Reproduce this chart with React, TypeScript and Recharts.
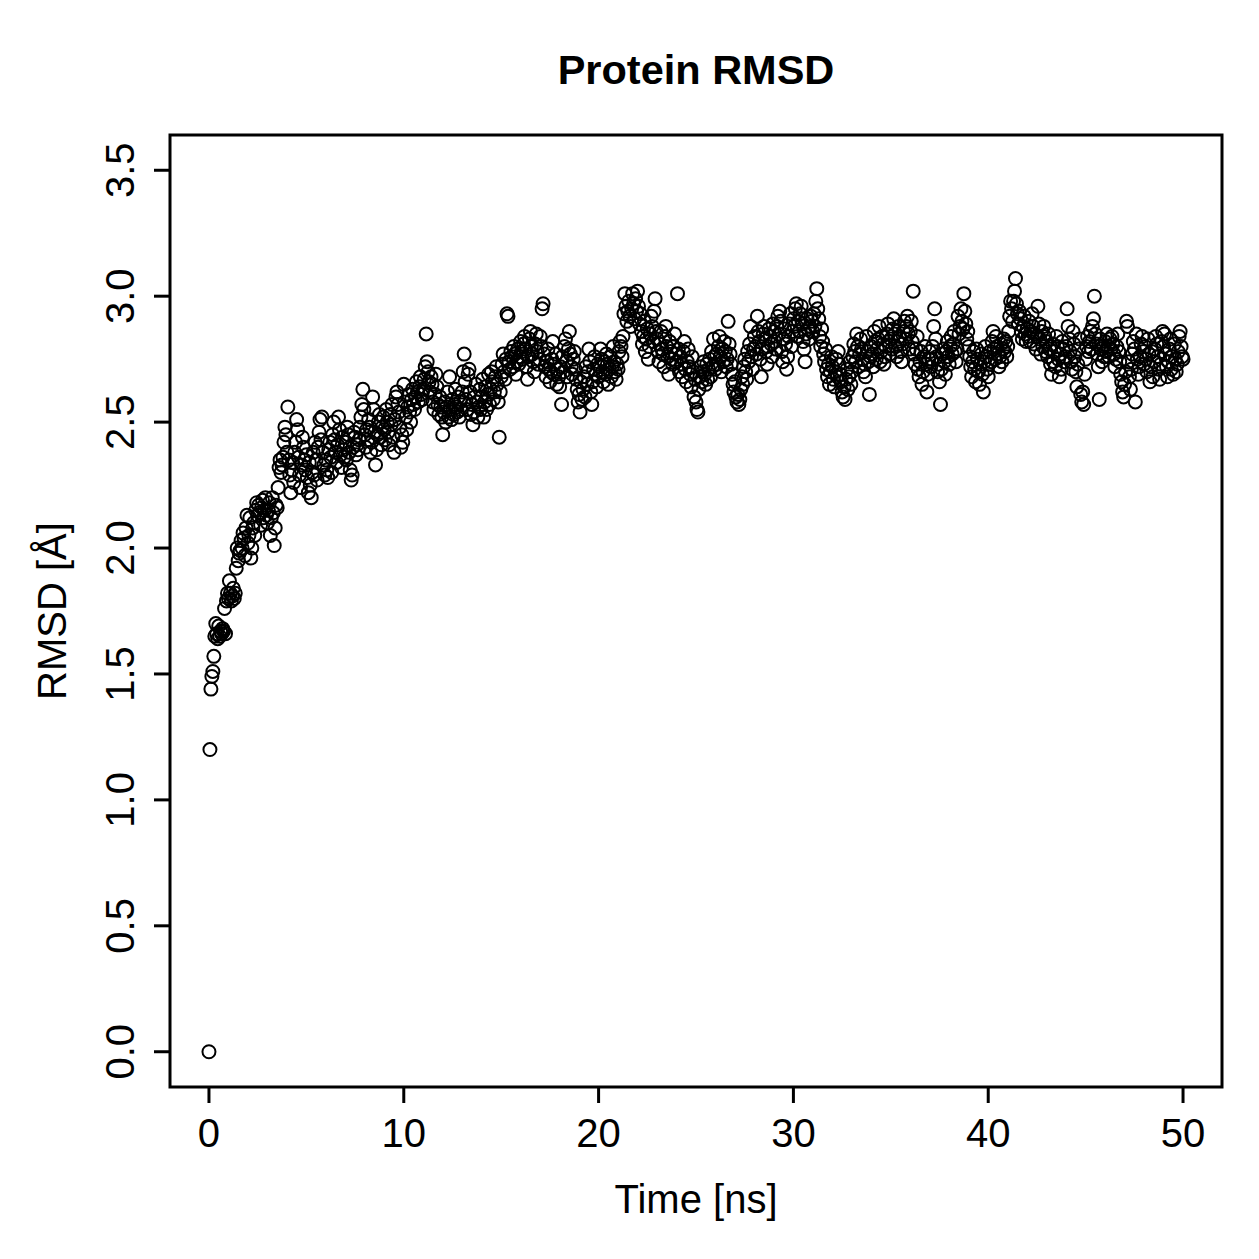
import { ScatterChart, Scatter, XAxis, YAxis, ReferenceArea } from "recharts";

// RMSD samples every 0.05 ns, one row per nanosecond (20 frames)
const FRAME_NS = 0.05;

const rmsd0to10 = [
  0.00, 1.20, 1.44, 1.49, 1.51, 1.57, 1.65, 1.70, 1.66, 1.64, 1.69, 1.65, 1.67, 1.66, 1.68, 1.67, 1.76, 1.66, 1.79, 1.82,
  1.80, 1.87, 1.82, 1.79, 1.81, 1.84, 1.80, 1.82, 1.92, 2.00, 1.95, 1.98, 1.99, 2.03, 2.00, 2.06, 2.04, 1.97, 2.08, 2.13,
  2.02, 2.05, 2.12, 1.96, 2.00, 2.08, 2.10, 2.05, 2.15, 2.18, 2.13, 2.17, 2.14, 2.09, 2.16, 2.19, 2.12, 2.15, 2.20, 2.13,
  2.10, 2.15, 2.18, 2.05, 2.12, 2.20, 2.14, 2.01, 2.08, 2.17, 2.16, 2.24, 2.32, 2.35, 2.30, 2.33, 2.36, 2.42, 2.48, 2.45,
  2.38, 2.56, 2.35, 2.29, 2.22, 2.31, 2.34, 2.26, 2.38, 2.42, 2.51, 2.47, 2.36, 2.29, 2.24, 2.33, 2.44, 2.40, 2.35, 2.31,
  2.37, 2.28, 2.22, 2.34, 2.25, 2.20, 2.30, 2.38, 2.29, 2.42, 2.35, 2.27, 2.40, 2.46, 2.51, 2.43, 2.52, 2.38, 2.33, 2.29,
  2.35, 2.31, 2.28, 2.39, 2.42, 2.36, 2.30, 2.45, 2.50, 2.43, 2.38, 2.34, 2.41, 2.52, 2.47, 2.37, 2.32, 2.44, 2.39, 2.36,
  2.42, 2.35, 2.48, 2.45, 2.38, 2.31, 2.27, 2.29, 2.40, 2.46, 2.44, 2.37, 2.41, 2.39, 2.43, 2.48, 2.52, 2.57, 2.63, 2.55,
  2.45, 2.40, 2.47, 2.43, 2.51, 2.48, 2.38, 2.42, 2.60, 2.55, 2.46, 2.33, 2.39, 2.45, 2.50, 2.53, 2.44, 2.41, 2.48, 2.52,
  2.47, 2.43, 2.55, 2.50, 2.46, 2.41, 2.53, 2.49, 2.57, 2.44, 2.38, 2.51, 2.60, 2.62, 2.57, 2.54, 2.48, 2.40, 2.45, 2.42,
];

const rmsd10to20 = [
  2.65, 2.58, 2.52, 2.47, 2.56, 2.61, 2.54, 2.50, 2.59, 2.63, 2.57, 2.55, 2.60, 2.66, 2.62, 2.58, 2.64, 2.68, 2.61, 2.59,
  2.63, 2.67, 2.72, 2.85, 2.74, 2.70, 2.66, 2.62, 2.68, 2.65, 2.58, 2.55, 2.61, 2.69, 2.64, 2.57, 2.53, 2.60, 2.56, 2.52,
  2.45, 2.54, 2.58, 2.50, 2.56, 2.62, 2.52, 2.68, 2.55, 2.51, 2.59, 2.53, 2.57, 2.63, 2.56, 2.54, 2.60, 2.52, 2.58, 2.55,
  2.62, 2.70, 2.77, 2.66, 2.59, 2.55, 2.69, 2.71, 2.62, 2.53, 2.57, 2.49, 2.54, 2.60, 2.65, 2.58, 2.52, 2.56, 2.63, 2.55,
  2.60, 2.67, 2.52, 2.58, 2.64, 2.55, 2.61, 2.69, 2.57, 2.63, 2.70, 2.66, 2.59, 2.62, 2.68, 2.72, 2.65, 2.58, 2.44, 2.62,
  2.68, 2.73, 2.77, 2.70, 2.67, 2.75, 2.93, 2.92, 2.74, 2.71, 2.78, 2.76, 2.72, 2.80, 2.77, 2.69, 2.74, 2.79, 2.73, 2.76,
  2.82, 2.78, 2.75, 2.81, 2.84, 2.79, 2.72, 2.67, 2.76, 2.83, 2.86, 2.80, 2.77, 2.74, 2.70, 2.81, 2.85, 2.78, 2.73, 2.75,
  2.84, 2.80, 2.95, 2.97, 2.77, 2.72, 2.68, 2.74, 2.79, 2.71, 2.66, 2.70, 2.75, 2.82, 2.69, 2.73, 2.77, 2.65, 2.71, 2.68,
  2.64, 2.72, 2.57, 2.76, 2.70, 2.80, 2.83, 2.74, 2.68, 2.79, 2.86, 2.77, 2.72, 2.69, 2.75, 2.78, 2.71, 2.67, 2.63, 2.58,
  2.61, 2.54, 2.66, 2.59, 2.63, 2.68, 2.60, 2.72, 2.65, 2.70, 2.79, 2.74, 2.62, 2.57, 2.66, 2.71, 2.76, 2.69, 2.64, 2.73,
];

const rmsd20to30 = [
  2.68, 2.72, 2.79, 2.75, 2.70, 2.66, 2.74, 2.69, 2.77, 2.73, 2.65, 2.71, 2.76, 2.68, 2.72, 2.80, 2.74, 2.70, 2.67, 2.73,
  2.71, 2.78, 2.82, 2.80, 2.76, 2.84, 2.93, 3.01, 2.96, 2.90, 2.94, 2.98, 2.92, 2.88, 2.95, 3.01, 2.97, 2.91, 2.99, 2.94,
  3.02, 2.96, 2.89, 2.93, 2.86, 2.81, 2.84, 2.90, 2.78, 2.83, 2.87, 2.75, 2.80, 2.85, 2.92, 2.88, 2.82, 2.94, 2.99, 2.86,
  2.83, 2.78, 2.74, 2.81, 2.86, 2.79, 2.77, 2.72, 2.84, 2.88, 2.80, 2.76, 2.69, 2.82, 2.78, 2.75, 2.73, 2.80, 2.85, 2.77,
  2.74, 3.01, 2.79, 2.70, 2.76, 2.73, 2.68, 2.78, 2.82, 2.71, 2.66, 2.74, 2.79, 2.72, 2.69, 2.64, 2.76, 2.70, 2.60, 2.67,
  2.58, 2.55, 2.54, 2.63, 2.68, 2.72, 2.66, 2.70, 2.74, 2.69, 2.65, 2.73, 2.67, 2.71, 2.75, 2.68, 2.78, 2.72, 2.83, 2.76,
  2.71, 2.77, 2.73, 2.80, 2.84, 2.76, 2.70, 2.79, 2.74, 2.82, 2.78, 2.72, 2.75, 2.90, 2.81, 2.77, 2.73, 2.69, 2.65, 2.62,
  2.66, 2.60, 2.58, 2.61, 2.57, 2.59, 2.63, 2.68, 2.65, 2.72, 2.75, 2.70, 2.67, 2.78, 2.74, 2.81, 2.88, 2.76, 2.71, 2.79,
  2.84, 2.80, 2.77, 2.92, 2.86, 2.82, 2.75, 2.68, 2.79, 2.85, 2.88, 2.83, 2.78, 2.73, 2.80, 2.87, 2.84, 2.81, 2.76, 2.89,
  2.86, 2.82, 2.79, 2.88, 2.92, 2.85, 2.94, 2.90, 2.78, 2.74, 2.83, 2.87, 2.81, 2.71, 2.76, 2.84, 2.89, 2.93, 2.80, 2.86,
];

const rmsd30to40 = [
  2.91, 2.88, 2.95, 2.97, 2.84, 2.90, 2.86, 2.93, 2.96, 2.89, 2.82, 2.79, 2.74, 2.85, 2.91, 2.87, 2.83, 2.88, 2.92, 2.90,
  2.86, 2.93, 2.88, 2.98, 3.03, 2.95, 2.91, 2.84, 2.80, 2.87, 2.82, 2.77, 2.74, 2.79, 2.71, 2.68, 2.73, 2.65, 2.70, 2.76,
  2.72, 2.67, 2.64, 2.70, 2.75, 2.68, 2.78, 2.73, 2.69, 2.66, 2.62, 2.60, 2.64, 2.59, 2.67, 2.71, 2.63, 2.68, 2.74, 2.65,
  2.70, 2.76, 2.81, 2.78, 2.74, 2.85, 2.80, 2.72, 2.77, 2.83, 2.79, 2.75, 2.70, 2.73, 2.68, 2.84, 2.78, 2.74, 2.61, 2.76,
  2.80, 2.77, 2.72, 2.86, 2.82, 2.75, 2.79, 2.83, 2.88, 2.74, 2.78, 2.84, 2.81, 2.73, 2.76, 2.80, 2.85, 2.89, 2.82, 2.77,
  2.83, 2.79, 2.87, 2.91, 2.85, 2.80, 2.76, 2.82, 2.88, 2.84, 2.78, 2.74, 2.81, 2.86, 2.90, 2.83, 2.88, 2.92, 2.85, 2.79,
  2.86, 2.90, 2.82, 3.02, 2.77, 2.73, 2.79, 2.84, 2.71, 2.68, 2.74, 2.78, 2.65, 2.70, 2.76, 2.80, 2.73, 2.62, 2.69, 2.75,
  2.78, 2.72, 2.75, 2.80, 2.88, 2.95, 2.83, 2.76, 2.70, 2.73, 2.66, 2.57, 2.71, 2.77, 2.79, 2.74, 2.69, 2.78, 2.82, 2.76,
  2.73, 2.80, 2.84, 2.77, 2.81, 2.86, 2.78, 2.74, 2.79, 2.92, 2.85, 2.88, 2.95, 2.90, 2.87, 3.01, 2.94, 2.89, 2.83, 2.86,
  2.80, 2.76, 2.72, 2.68, 2.74, 2.78, 2.71, 2.66, 2.79, 2.75, 2.70, 2.65, 2.73, 2.77, 2.69, 2.62, 2.74, 2.80, 2.76, 2.71,
];

const rmsd40to50 = [
  2.68, 2.73, 2.78, 2.74, 2.82, 2.86, 2.79, 2.75, 2.84, 2.80, 2.77, 2.72, 2.76, 2.81, 2.74, 2.79, 2.83, 2.78, 2.82, 2.76,
  2.80, 2.86, 2.92, 2.98, 2.95, 2.90, 2.98, 3.02, 3.07, 2.97, 2.93, 2.89, 2.94, 2.91, 2.86, 2.83, 2.88, 2.92, 2.85, 2.82,
  2.87, 2.84, 2.90, 2.82, 2.86, 2.93, 2.88, 2.81, 2.85, 2.79, 2.84, 2.96, 2.89, 2.83, 2.77, 2.86, 2.80, 2.88, 2.84, 2.78,
  2.82, 2.76, 2.85, 2.79, 2.73, 2.69, 2.81, 2.74, 2.78, 2.72, 2.84, 2.80, 2.75, 2.68, 2.77, 2.71, 2.82, 2.79, 2.74, 2.76,
  2.80, 2.95, 2.88, 2.83, 2.78, 2.74, 2.71, 2.86, 2.81, 2.76, 2.70, 2.64, 2.73, 2.79, 2.83, 2.61, 2.58, 2.62, 2.57, 2.69,
  2.75, 2.80, 2.84, 2.78, 2.82, 2.86, 2.79, 2.88, 2.91, 3.00, 2.85, 2.81, 2.77, 2.72, 2.59, 2.83, 2.79, 2.74, 2.80, 2.76,
  2.82, 2.78, 2.85, 2.80, 2.76, 2.83, 2.79, 2.84, 2.81, 2.77, 2.72, 2.75, 2.80, 2.85, 2.78, 2.74, 2.69, 2.66, 2.62, 2.60,
  2.65, 2.70, 2.90, 2.88, 2.74, 2.68, 2.63, 2.71, 2.77, 2.82, 2.79, 2.58, 2.85, 2.75, 2.69, 2.72, 2.76, 2.81, 2.84, 2.78,
  2.73, 2.80, 2.75, 2.70, 2.83, 2.77, 2.66, 2.72, 2.78, 2.68, 2.74, 2.79, 2.84, 2.81, 2.76, 2.71, 2.67, 2.73, 2.82, 2.86,
  2.80, 2.85, 2.77, 2.72, 2.68, 2.74, 2.79, 2.83, 2.71, 2.76, 2.69, 2.81, 2.75, 2.70, 2.73, 2.78, 2.84, 2.86, 2.80, 2.76,
  2.75,
];

const xTicks = [0, 10, 20, 30, 40, 50];
const yTicks = [0, 0.5, 1, 1.5, 2, 2.5, 3, 3.5];

const points = [...rmsd0to10, ...rmsd10to20, ...rmsd20to30, ...rmsd30to40, ...rmsd40to50].map((v, i) => ({
  time: Math.round(i * FRAME_NS * 100) / 100,
  rmsd: v,
}));

const FONT = "'Liberation Sans', Arial, Helvetica, sans-serif";

const Ring = (props: any) => (
  <circle cx={props.cx} cy={props.cy} r={6.5} fill="none" stroke="#000" strokeWidth={2} />
);

const XTick = ({ x, y, payload }: any) => (
  <text x={x} y={y} dy={29} textAnchor="middle" fontSize={40} fontFamily={FONT} fill="#000">
    {payload.value}
  </text>
);

const YTick = ({ x, y, payload }: any) => (
  <text
    x={x}
    y={y}
    transform={`rotate(-90, ${x}, ${y})`}
    textAnchor="middle"
    fontSize={40}
    fontFamily={FONT}
    fill="#000"
  >
    {Number(payload.value).toFixed(1)}
  </text>
);

export default function App() {
  return (
    <div style={{ position: "absolute", left: 0, top: 0, width: 1259, height: 1259, background: "#fff" }}>
      <div
        style={{
          position: "absolute",
          left: 170,
          top: 49,
          width: 1052,
          textAlign: "center",
          fontFamily: FONT,
          fontWeight: "bold",
          fontSize: 41.5,
          lineHeight: "42px",
        }}
      >
        Protein RMSD
      </div>
      <ScatterChart width={1259} height={1259} margin={{ top: 135, right: 37, bottom: 92, left: 70 }}>
        <XAxis
          type="number"
          dataKey="time"
          domain={[-2, 52]}
          ticks={xTicks}
          allowDataOverflow
          height={80}
          axisLine={false}
          tickSize={16}
          tickMargin={15}
          tickLine={{ stroke: "#000", strokeWidth: 3 }}
          tick={<XTick />}
          label={(p: any) => (
            <text
              x={p.viewBox.x + p.viewBox.width / 2}
              y={p.viewBox.y + 126}
              textAnchor="middle"
              fontSize={40}
              fontFamily={FONT}
              fill="#000"
            >
              Time [ns]
            </text>
          )}
        />
        <YAxis
          type="number"
          dataKey="rmsd"
          domain={[-0.14, 3.64]}
          ticks={yTicks}
          allowDataOverflow
          width={100}
          axisLine={false}
          tickSize={16}
          tickMargin={20}
          tickLine={{ stroke: "#000", strokeWidth: 3 }}
          tick={<YTick />}
          label={(p: any) => {
            const cx = p.viewBox.x - 4;
            const cy = p.viewBox.y + p.viewBox.height / 2;
            return (
              <text
                x={cx}
                y={cy}
                transform={`rotate(-90, ${cx}, ${cy})`}
                textAnchor="middle"
                fontSize={40}
                fontFamily={FONT}
                fill="#000"
              >
                RMSD [Å]
              </text>
            );
          }}
        />
        <ReferenceArea
          x1={-2}
          x2={52}
          y1={-0.14}
          y2={3.64}
          ifOverflow="visible"
          fill="none"
          fillOpacity={0}
          stroke="#000"
          strokeWidth={3}
        />
        <Scatter data={points} shape={<Ring />} isAnimationActive={false} />
      </ScatterChart>
    </div>
  );
}
